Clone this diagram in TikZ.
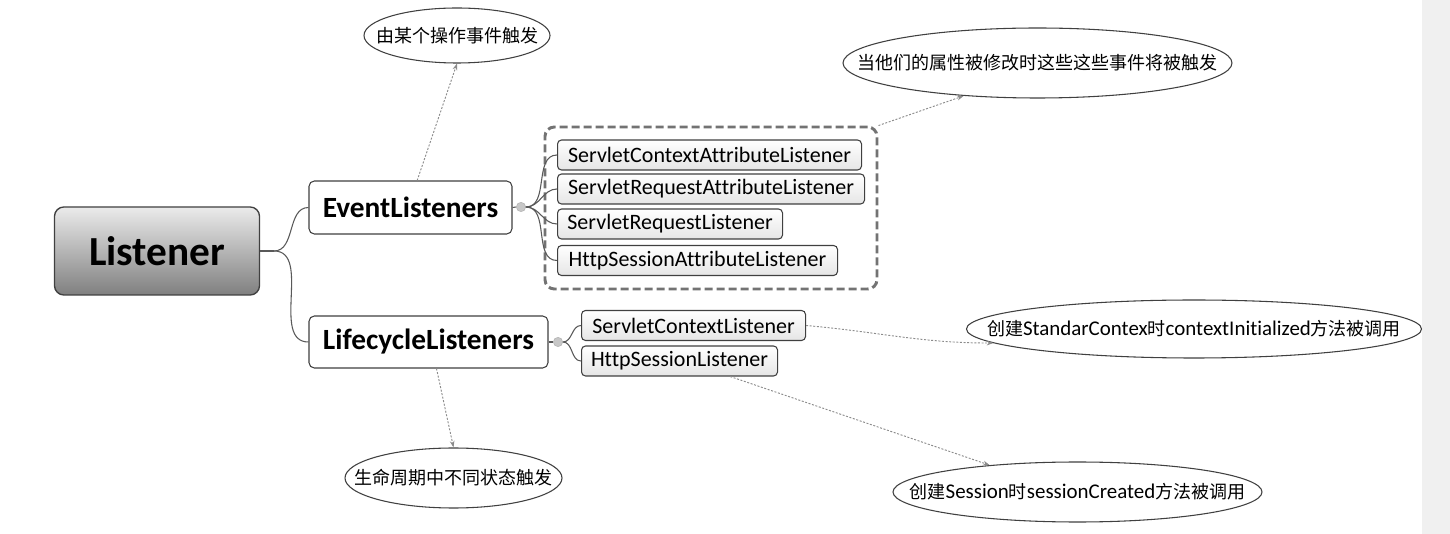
\documentclass[tikz,border=0pt]{standalone}
\usepackage{fontspec}
\setmainfont[Ligatures=NoCommon]{Carlito}
\newfontfamily\cjk{Noto Sans CJK SC}
\usetikzlibrary{shapes.geometric,arrows.meta}
\begin{document}
\begin{tikzpicture}[x=0.75pt,y=-0.75pt,
  rootbox/.style={draw=black!75,line width=1pt,rounded corners=7pt,top color=black!8,bottom color=black!50,
    minimum width=153.75pt,minimum height=66pt,inner sep=0pt,font=\fontsize{31}{36}\selectfont\bfseries},
  midbox/.style={draw=black!75,line width=0.8pt,rounded corners=4pt,fill=white,
    inner sep=0pt,font=\fontsize{22}{26}\selectfont\bfseries},
  leafbox/.style={draw=black!75,line width=0.8pt,rounded corners=3pt,top color=white,bottom color=black!10,
    minimum height=22.5pt,inner sep=0pt,anchor=west,font=\fontsize{16.5}{20}\selectfont},
  grpbox/.style={draw=black!55,line width=2.2pt,dash pattern=on 6pt off 3pt,rounded corners=7pt,
    minimum width=249pt,minimum height=121.5pt,inner sep=0pt},
  note/.style={draw=black!75,line width=0.8pt,ellipse,inner sep=0pt},
  notetext/.style={inner sep=0pt,font=\fontsize{15.7}{18}\selectfont},
  btn/.style={circle,fill=black!22,draw=black!30,minimum size=7pt,inner sep=0pt},
  conn/.style={draw=black!65,line width=0.8pt},
  arr/.style={draw=black!45,line width=0.7pt,dash pattern=on 1.5pt off 1.2pt,-{Stealth[length=5pt,width=3.5pt]}}]
\fill[white] (0,0) rectangle (1450,534);
\fill[black!6] (1422,0) rectangle (1450,534);
\newcommand\zh[1]{{\cjk\fontsize{13.5}{16}\selectfont #1}}

\node[rootbox] (L) at (157,251) {Listener};
\node[midbox,minimum width=152.25pt,minimum height=39.75pt] (EL) at (410.5,207.5) {EventListeners};
\node[midbox,minimum width=179.25pt,minimum height=39pt] (LL) at (428.5,342) {LifecycleListeners};

\node[grpbox] (grp) at (711,208) {};
\node[leafbox,minimum width=228pt] (c1) at (557,155) {ServletContextAttributeListener};
\node[leafbox,minimum width=230.25pt] (c2) at (557,189) {ServletRequestAttributeListener};
\node[leafbox,minimum width=168.75pt] (c3) at (557,224) {ServletRequestListener};
\node[leafbox,minimum width=210pt] (c4) at (557,260.5) {HttpSessionAttributeListener};
\node[leafbox,minimum width=168pt] (d1) at (581,325.5) {ServletContextListener};
\node[leafbox,minimum width=147pt] (d2) at (581,361) {HttpSessionListener};

\node[btn] (b1) at (521,207) {};
\node[btn] (b2) at (558,342) {};

\node[note,minimum width=139.5pt,minimum height=41.25pt] (e1) at (457,35.5) {};
\node[notetext] (t1) at (e1) {\zh{由某个操作事件触发}};
\node[note,minimum width=291.75pt,minimum height=52.5pt] (e2) at (1037.5,63) {};
\node[notetext] (t2) at (e2) {\zh{当他们的属性被修改时这些这些事件将被触发}};
\node[note,minimum width=341.25pt,minimum height=43.5pt] (e3) at (1194,329) {};
\node[notetext] (t3) at (e3) {\zh{创建}StandarContex\zh{时}contextInitialized\zh{方法被调用}};
\node[note,minimum width=162.75pt,minimum height=45pt] (e4) at (453.5,478) {};
\node[notetext] (t4) at (e4) {\zh{生命周期中不同状态触发}};
\node[note,minimum width=276.75pt,minimum height=45pt] (e5) at (1077.5,492) {};
\node[notetext] (t5) at (e5) {\zh{创建}Session\zh{时}sessionCreated\zh{方法被调用}};

% tree connectors
\coordinate (j) at (274,251);
\draw[conn] (L.east) -- (j);
\draw[conn] (j) to[out=0,in=180] (EL.west);
\draw[conn] (j) to[out=0,in=180] (LL.west);
\draw[conn] (EL.east) -- (b1.west);
\foreach \c in {c1,c2,c3,c4} \draw[conn] (b1.east) to[out=0,in=180] (\c.west);
\draw[conn] (LL.east) -- (b2.west);
\foreach \c in {d1,d2} \draw[conn] (b2.east) to[out=0,in=180] (\c.west);

% note arrows
\draw[arr] ([xshift=5pt]EL.north) -- (e1.south);
\draw[arr] (grp.north east) -- (e2.204);
\draw[arr] (d1.east) to[out=-5,in=180] (e3.184);
\draw[arr] ([xshift=38pt]d2.south) -- (e5.163);
\draw[arr] ([xshift=6pt]LL.south) -- (e4.north);
\end{tikzpicture}
\end{document}
